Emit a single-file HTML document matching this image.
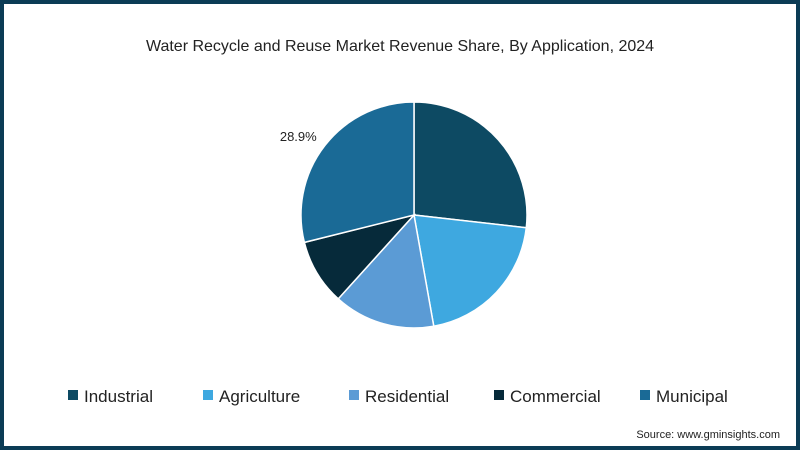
<!DOCTYPE html>
<html><head><meta charset="utf-8"><style>
body{margin:0;width:800px;height:450px;overflow:hidden;background:#fff;font-family:"Liberation Sans",sans-serif}
#frame{position:absolute;left:0;top:0;width:792px;height:442px;border:4px solid #0b3c55;background:#fff}
</style></head><body>
<div id="frame"></div>
<svg width="800" height="450" style="position:absolute;left:0;top:0">
<text x="400" y="51" text-anchor="middle" font-size="16" fill="#222">Water Recycle and Reuse Market Revenue Share, By Application, 2024</text>
<g id="pie"></g>
<g id="legend"></g>
<text x="780" y="438" text-anchor="end" font-size="11" fill="#222">Source: www.gminsights.com</text>
</svg>
<script>
const categories=["Industrial","Agriculture","Residential","Commercial","Municipal"];
const values=[26.8,20.4,14.5,9.4,28.9];
const labels=["","","","","28.9%"];
const colors=["#0d4a63","#3ea8e0","#5b9bd5","#062a3a","#1a6a96"];
const ns="http://www.w3.org/2000/svg";
const cx=414,cy=215,r=113;
const pie=document.getElementById('pie');
const total=values.reduce((a,b)=>a+b,0);
let a0=0;
values.forEach((v,i)=>{
  const a1=a0+v/total*2*Math.PI;
  const x0=cx+r*Math.sin(a0),y0=cy-r*Math.cos(a0),x1=cx+r*Math.sin(a1),y1=cy-r*Math.cos(a1);
  const p=document.createElementNS(ns,'path');
  p.setAttribute('d',`M${cx},${cy}L${x0},${y0}A${r},${r} 0 ${a1-a0>Math.PI?1:0} 1 ${x1},${y1}Z`);
  p.setAttribute('fill',colors[i]);p.setAttribute('stroke','#fff');p.setAttribute('stroke-width','1.5');
  
  
  pie.appendChild(p);
  if(labels[i]){
    const m=(a0+a1)/2;
    const t=document.createElementNS(ns,'text');
    t.setAttribute('x',cx+(r+30)*Math.sin(m)-3);t.setAttribute('y',cy-(r+30)*Math.cos(m)+14);
    t.setAttribute('text-anchor','middle');t.setAttribute('font-size','13');t.setAttribute('fill','#222');
    t.textContent=labels[i];
    
    
    pie.appendChild(t);
  }
  a0=a1;
});
const lg=document.getElementById('legend');
const lx=[68,203,349,494,640];
categories.forEach((c,i)=>{
  const g=document.createElementNS(ns,'g');
  
  
  const s=document.createElementNS(ns,'rect');
  s.setAttribute('x',lx[i]);s.setAttribute('y',390);s.setAttribute('width',10);s.setAttribute('height',10);s.setAttribute('fill',colors[i]);
  const t=document.createElementNS(ns,'text');
  t.setAttribute('x',lx[i]+16);t.setAttribute('y',402);t.setAttribute('font-size','17');t.setAttribute('fill','#222');
  t.textContent=c;
  g.appendChild(s);g.appendChild(t);lg.appendChild(g);
});
</script>
</body></html>
